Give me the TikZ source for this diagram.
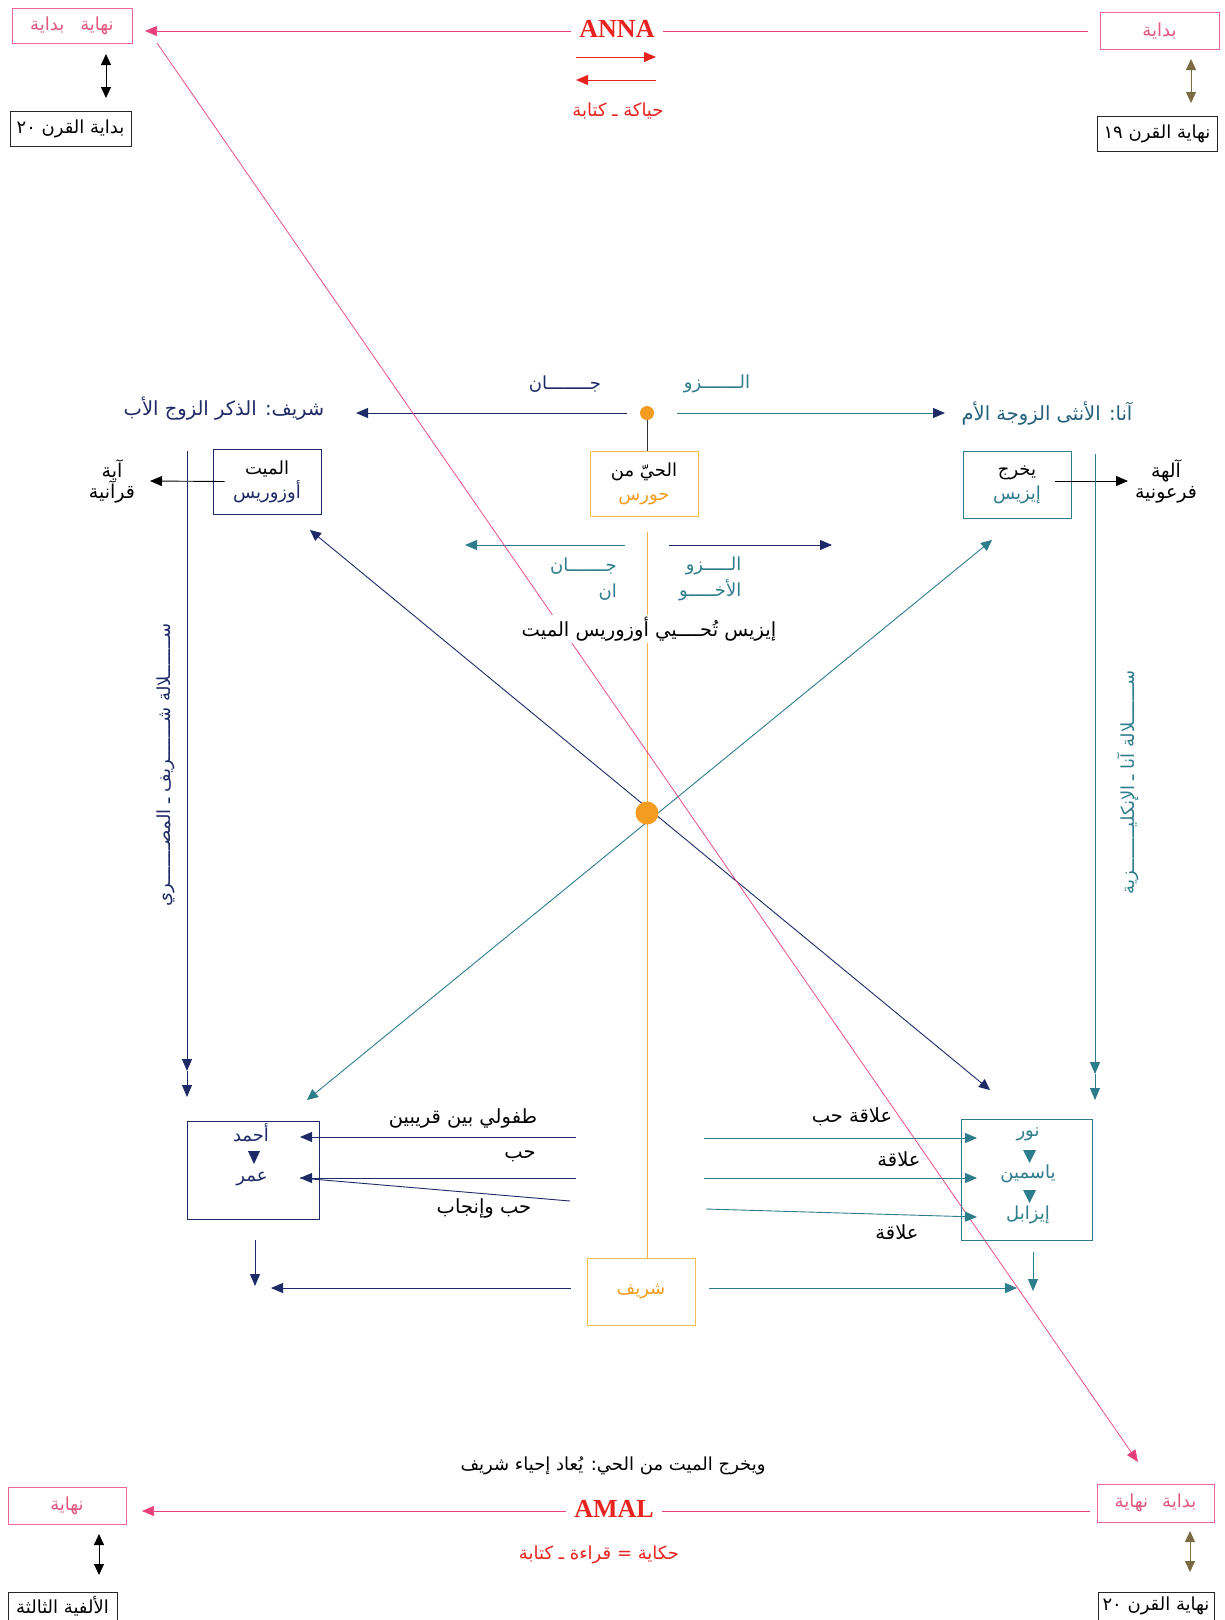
\documentclass[tikz,border=0pt]{standalone}
\usepackage{fontspec}
\setmainfont{Liberation Serif}
\newfontfamily\arabicfont[Script=Arabic]{DejaVu Sans}
\usetikzlibrary{arrows.meta}
\TeXXeTstate=1
\definecolor{cNavy}{HTML}{1E2A66}
\definecolor{cTeal}{HTML}{2E7D8C}
\definecolor{cTealD}{HTML}{25607A}
\definecolor{cPink}{HTML}{E9407B}
\definecolor{cPinkTxt}{HTML}{E2587F}
\definecolor{cRed}{HTML}{E8231F}
\definecolor{cOrange}{HTML}{F39C1F}
\definecolor{cOrBox}{HTML}{F6BE4F}
\definecolor{cOlive}{HTML}{7A6B42}
\tikzset{
  ar/.style={font=\arabicfont\fontsize{18}{24}\selectfont, inner sep=1pt, align=center},
  big/.style={font=\arabicfont\fontsize{19.5}{22}\selectfont},
  pinkbox/.style={ar, draw=cPink!80, line width=0.9pt, text=cPinkTxt},
  blkbox/.style={ar, draw=black!85, line width=1pt, text=black},
  navybox/.style={ar, draw=cNavy, line width=1pt},
  tealbox/.style={ar, draw=cTeal, line width=1pt},
  orbox/.style={ar, draw=cOrBox, line width=1pt},
  onearrow/.style={-{Triangle[length=12pt,width=10pt]}, line width=0.9pt},
  twoarrow/.style={{Triangle[length=11pt,width=10pt]}-{Triangle[length=11pt,width=10pt]}, line width=0.9pt},
  pinkline/.style={draw=cPink, line width=0.7pt},
  bigtitle/.style={font=\bfseries\fontsize{26}{28}\selectfont, text=cRed, inner sep=8pt},
}
\begin{document}
\begin{tikzpicture}[x=1pt,y=-1pt]
\useasboundingbox (0,0) rectangle (1225,1620);
\fill[white] (0,0) rectangle (1225,1620);

% ---------- top ----------
\node[pinkbox, minimum width=120, minimum height=35] (tlb) at (72,25.5) {\beginR نهاية\hspace{16pt}بداية\endR};
\node[blkbox, minimum width=121, minimum height=35] (tlb2) at (70.5,128.5) {\beginR بداية القرن \beginL٢٠\endL\endR};
\coordinate (tla1) at (106,54); \coordinate (tla2) at (106,98);
\draw[twoarrow, black] (tla1) -- (tla2);

\node[pinkbox, minimum width=119, minimum height=37] (trb) at (1159.5,30.5) {\beginR بداية\endR};
\node[blkbox, minimum width=120, minimum height=35] (trb2) at (1157,133.5) {\beginR نهاية القرن \beginL١٩\endL\endR};
\coordinate (tra1) at (1191,59); \coordinate (tra2) at (1191,103);
\draw[twoarrow, cOlive] (tra1) -- (tra2);

\node[bigtitle] (anna) at (617,29) {ANNA};
\coordinate (pl1) at (1088,31); \coordinate (pl2) at (145,31);
\draw[pinkline] (pl1) -- (anna.east |- pl1);
\draw[pinkline, -{Triangle[length=12pt,width=10pt]}] (anna.west |- pl1) -- (pl2);
\coordinate (ra1) at (576,57); \coordinate (ra2) at (656,57);
\coordinate (rb1) at (656,80); \coordinate (rb2) at (576,80);
\draw[onearrow, cRed] (ra1) -- (ra2);
\draw[onearrow, cRed] (rb1) -- (rb2);
\node[ar, text=cRed] (hiyaka) at (618,111) {\beginR حياكة ـ كتابة\endR};

% ---------- middle top ----------
\node[circle, fill=cOrange, minimum size=14pt, inner sep=0pt] (dot1) at (647,413) {};
\node[ar, text=cNavy] (jan1) at (565,384) {\beginR جــــــــان\endR};
\node[ar, text=cTeal] (zaw1) at (717,384) {\beginR الـــــــزو\endR};
\node[ar, big, text=cNavy] (sherif) at (224,409) {\beginR شريف: الذكر الزوج الأب\endR};
\node[ar, big, text=cTealD] (anaT) at (1047,414) {\beginR آنا: الأنثى الزوجة الأم\endR};
\coordinate (lt1) at (356,413); \coordinate (rt1) at (945,413);
\draw[onearrow, cNavy] ([xshift=-20pt]dot1.center) -- (lt1);
\draw[-{Triangle[length=12pt,width=10pt,color=cNavy]}, line width=0.9pt, cTeal] ([xshift=30pt]dot1.center) -- (rt1);

\node[orbox, minimum width=108, minimum height=65] (horus) at (644,483.5) {\beginR الحيّ من\endR\\\textcolor{cOrange}{\beginR حورس\endR}};
\draw[line width=0.8pt, black!80] (dot1) -- (dot1 |- horus.north);

\node[navybox, minimum width=108, minimum height=65] (osiris) at (267,481.5) {\beginR الميت\endR\\\textcolor{cNavy}{\beginR أوزوريس\endR}};
\node[ar, font=\arabicfont\fontsize{19}{21}\selectfont] (aya) at (112,481) {\beginR آية\endR\\\beginR قرآنية\endR};
\coordinate (ayaT) at (150,481);
\draw[onearrow, black] ([xshift=12pt]osiris.west) -- (ayaT);

\node[tealbox, minimum width=108, minimum height=67] (isis) at (1017,484.5) {\beginR يخرج\endR\\\textcolor{cTeal}{\beginR إيزيس\endR}};
\node[ar, font=\arabicfont\fontsize{19}{21}\selectfont] (alha) at (1166,481) {\beginR آلهة\endR\\\beginR فرعونية\endR};
\coordinate (alhaT) at (1128,481);
\draw[onearrow, black] ([xshift=-17pt]isis.east |- alhaT) -- (alhaT);

% vertical lineage lines
\coordinate (vl1) at (187,451); \coordinate (vl2) at (187,1071); \coordinate (vl3) at (187,1097);
\draw[onearrow, cNavy] (vl1) -- (vl2);
\draw[onearrow, cNavy] (vl2) -- (vl3);
\coordinate (vr1) at (1095,454); \coordinate (vr2) at (1095,1074); \coordinate (vr3) at (1095,1100);
\draw[onearrow, cTeal] (vr1) -- (vr2);
\draw[onearrow, cTeal] (vr2) -- (vr3);
\node[ar, rotate=90, text=cNavy] (lin1) at (166,765) {\beginR ســـــــلالة شـــــــريف ـ المصـــــــري\endR};
\node[ar, rotate=90, text=cTeal] (lin2) at (1128,782) {\beginR ســـــــلالة آنا ـ الإنكليــــــــزية\endR};

% second row
\coordinate (s1) at (625,545); \coordinate (s1T) at (465,545);
\coordinate (s2) at (669,545); \coordinate (s2T) at (832,545);
\draw[onearrow, cTeal] (s1) -- (s1T);
\draw[onearrow, cNavy] (s2) -- (s2T);
\node[ar, text=cTeal, anchor=east, align=right, font=\arabicfont\fontsize{18}{26}\selectfont] (jan2) at (618,579) {\beginR جـــــــان\endR\\\beginR ان\endR};
\node[ar, text=cTeal, anchor=west, align=right, font=\arabicfont\fontsize{18}{26}\selectfont] (zaw2) at (678,579) {\beginR الـــــزو\endR\\\beginR الأخـــــو\endR};

% sharif box bottom
\node[orbox, minimum width=108, minimum height=67, text=cOrange] (sharifB) at (641,1291.5) {\beginR شريف\endR};

% orange vertical line
\coordinate (ov1) at (647,532);
\draw[line width=1pt, cOrange!80] (ov1) -- (ov1 |- sharifB.north);

% diagonals
\coordinate (d1a) at (310,530); \coordinate (d1b) at (990,1090);
\coordinate (d2a) at (992,540); \coordinate (d2b) at (307,1100);
\draw[twoarrow, cNavy] (d1a) -- (d1b);
\draw[twoarrow, cTeal] (d2a) -- (d2b);
\node[circle, fill=cOrange, minimum size=23pt, inner sep=0pt] (dot2) at (647,813) {};

% pink diagonal
\coordinate (pd1) at (157,43); \coordinate (pd2) at (1138,1462);
\draw[pinkline, -{Triangle[length=12pt,width=10pt]}] (pd1) -- (pd2);

\node[ar, big, fill=white, inner sep=2pt] (isisT) at (649,629) {\beginR إيزيس تُحــــيي أوزوريس الميت\endR};

% ---------- bottom boxes ----------
\node[navybox, minimum width=132, minimum height=98] (ahmad) at (253,1170) {};
\node[ar, text=cNavy] (ahmadT) at (251,1133) {\beginR أحمد\endR};
\node[ar, text=cNavy] (omarT) at (252,1179) {\beginR عمر\endR};
\fill[cNavy] (248,1151) -- (260,1151) -- (254,1164) -- cycle;

\coordinate (la1) at (576,1137); \coordinate (la1T) at (300,1137);
\coordinate (la2) at (576,1178); \coordinate (la2T) at (300,1178);
\coordinate (la3) at (570,1201);
\draw[onearrow, cNavy] (la1) -- (la1T);
\draw[onearrow, cNavy] (la2) -- (la2T);
\draw[line width=0.9pt, cNavy] (la3) -- (la2T);
\node[ar, big] (tufuli) at (463,1118) {\beginR طفولي بين قريبين\endR};
\node[ar, big] (hubb) at (520,1156) {\beginR حب\endR};
\node[ar, big] (hubb2) at (484,1208) {\beginR حب وإنجاب\endR};

\node[tealbox, minimum width=131, minimum height=121] (noor) at (1026.5,1179.5) {};
\node[ar, text=cTeal] (noorT) at (1028,1134) {\beginR نور\endR};
\node[ar, text=cTeal] (yasT) at (1028,1174) {\beginR ياسمين\endR};
\node[ar, text=cTeal] (izaT) at (1028,1215) {\beginR إيزابل\endR};
\fill[cTeal] (1023,1150) -- (1036,1150) -- (1029.5,1163) -- cycle;
\fill[cTeal] (1023,1190) -- (1036,1190) -- (1029.5,1203) -- cycle;

\coordinate (ra1b) at (704,1138); \coordinate (ra1bT) at (977,1138);
\coordinate (ra2b) at (704,1178); \coordinate (ra2bT) at (977,1178);
\coordinate (ra3b) at (706,1209); \coordinate (ra3bT) at (977,1217);
\draw[onearrow, cTeal] (ra1b) -- (ra1bT);
\draw[onearrow, cTeal] (ra2b) -- (ra2bT);
\draw[onearrow, cTeal] (ra3b) -- (ra3bT);
\node[ar, big] (alaqa1) at (852,1117) {\beginR علاقة حب\endR};
\node[ar, big] (alaqa2) at (899,1159) {\beginR علاقة\endR};
\node[ar, big] (alaqa3) at (897,1232) {\beginR علاقة\endR};

% below boxes
\coordinate (ld1) at (255,1240); \coordinate (ld2) at (255,1286);
\draw[onearrow, cNavy] (ld1) -- (ld2);
\coordinate (lh2) at (271,1288);
\draw[onearrow, cNavy] ([xshift=-16pt]sharifB.west |- lh2) -- (lh2);
\coordinate (rd1) at (1033,1252); \coordinate (rd2) at (1033,1291);
\draw[onearrow, cTeal] (rd1) -- (rd2);
\coordinate (rh2) at (1017,1288);
\draw[onearrow, cTeal] ([xshift=13pt]sharifB.east |- rh2) -- (rh2);

% ---------- bottom ----------
\node[ar, font=\arabicfont\fontsize{18}{22}\selectfont] (yakhruj) at (613,1466) {\beginR ويخرج الميت من الحي: يُعاد إحياء شريف\endR};
\node[bigtitle] (amal) at (614,1509) {AMAL};
\node[ar, text=cRed] (hikaya) at (599,1555) {\beginR حكاية = قراءة ـ كتابة\endR};

\node[pinkbox, minimum width=118, minimum height=37] (blb) at (67,1505.5) {\beginR نهاية\endR};
\node[blkbox, minimum width=109, minimum height=28, inner sep=0pt] (blb2) at (62.5,1606) {\beginR الألفية الثالثة\endR};
\coordinate (bla1) at (99,1534); \coordinate (bla2) at (99,1575);
\draw[twoarrow, black] (bla1) -- (bla2);

\node[pinkbox, minimum width=117, minimum height=38] (brb) at (1155.5,1503) {\beginR بداية\hspace{14pt}نهاية\endR};
\node[blkbox, minimum width=116, minimum height=28, inner sep=0pt] (brb2) at (1156,1606) {\beginR نهاية القرن \beginL٢٠\endL\endR};
\coordinate (bra1) at (1190,1531); \coordinate (bra2) at (1190,1572);
\draw[twoarrow, cOlive] (bra1) -- (bra2);

\coordinate (bp1) at (1090,1511); \coordinate (bp2) at (142,1511);
\draw[pinkline] (bp1) -- (amal.east |- bp1);
\draw[pinkline, -{Triangle[length=12pt,width=10pt]}] (amal.west |- bp1) -- (bp2);
\end{tikzpicture}
\end{document}
